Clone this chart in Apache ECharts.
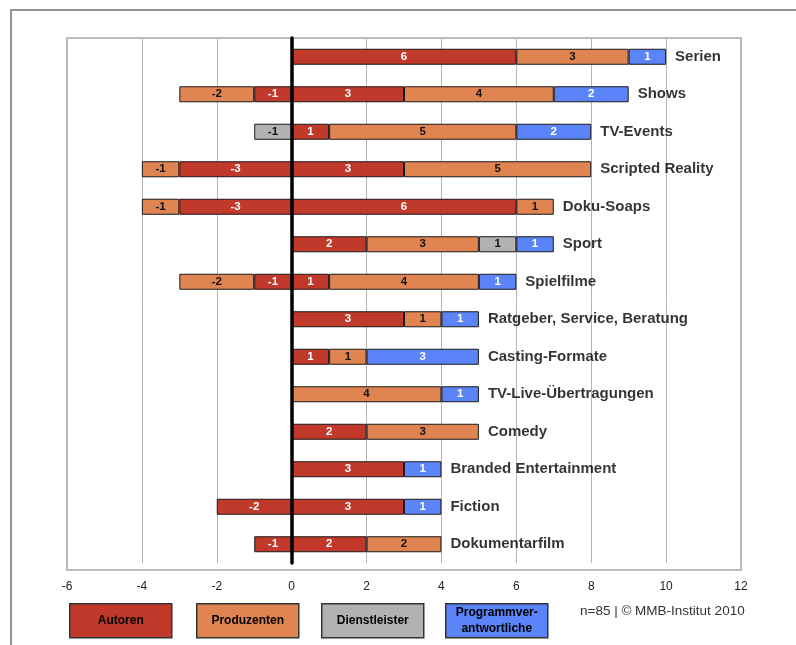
<!DOCTYPE html>
<html>
<head>
<meta charset="utf-8">
<script src="https://cdn.jsdelivr.net/npm/echarts@6/dist/echarts.min.js"></script>
<style>html,body{margin:0;padding:0;background:#fff}#c{width:796px;height:645px}</style>
</head>
<body>
<div id="c"></div>
<script>
const categories = ['Serien','Shows','TV-Events','Scripted Reality','Doku-Soaps','Sport','Spielfilme','Ratgeber, Service, Beratung','Casting-Formate','TV-Live-Übertragungen','Comedy','Branded Entertainment','Fiction','Dokumentarfilm'];
const autorenPos      = [6,3,1,3,6,2,1,3,1,0,2,3,3,2];
const produzentenPos  = [3,4,5,5,1,3,4,1,1,4,3,0,0,2];
const dienstPos       = [0,0,0,0,0,1,0,0,0,0,0,0,0,0];
const programmPos     = [1,2,2,0,0,1,1,1,3,1,0,1,1,0];
const autorenNeg      = [0,-1,0,-3,-3,0,-1,0,0,0,0,0,-2,-1];
const produzentenNeg  = [0,-2,0,-1,-1,0,-2,0,0,0,0,0,0,0];
const dienstNeg       = [0,0,-1,0,0,0,0,0,0,0,0,0,0,0];
const xTicks = {min:-6, max:12, interval:2};
const legendNames = ['Autoren','Produzenten','Dienstleister','Programmver-\nantwortliche'];
const footer = 'n=85 | © MMB-Institut 2010';

const colors = {A:'#C0392A', P:'#E08552', D:'#B2B2B2', G:'#5B84F8'};
const font = 'Liberation Sans, Arial, Helvetica, sans-serif';
const nz = arr => arr.map(v => v === 0 ? '-' : v);

function barSeries(name, data, color, textColor) {
  return {
    name, type:'bar', stack:'total', data:nz(data), barWidth:16,
    itemStyle:{color, borderColor:'#1a1a1a', borderWidth:1},
    label:{show:true, position:'inside', color:textColor, fontWeight:'bold', fontSize:11.5, fontFamily:font},
    emphasis:{disabled:true}
  };
}

const totals = categories.map((c,i) => [autorenPos[i]+produzentenPos[i]+dienstPos[i]+programmPos[i], i]);

const chart = echarts.init(document.getElementById('c'), null, {renderer:'canvas'});
chart.setOption({
  animation:false,
  grid:{left:67, right:55, top:38, bottom:82, show:false},
  xAxis:{type:'value', min:xTicks.min, max:xTicks.max, interval:xTicks.interval,
    axisLine:{show:false}, axisTick:{show:false},
    splitLine:{lineStyle:{color:'#b4b4b4', width:1}},
    axisLabel:{color:'#222', fontSize:12, fontFamily:font, margin:18}},
  yAxis:{type:'category', data:categories, inverse:true, z:10,
    axisLine:{show:true, onZero:true, lineStyle:{color:'#000', width:3.5}},
    axisTick:{show:false}, axisLabel:{show:false}, splitLine:{show:false}},
  series:[
    barSeries('Autoren-', autorenNeg, colors.A, '#fff'),
    barSeries('Autoren', autorenPos, colors.A, '#fff'),
    barSeries('Produzenten-', produzentenNeg, colors.P, '#111'),
    barSeries('Produzenten', produzentenPos, colors.P, '#111'),
    barSeries('Dienstleister-', dienstNeg, colors.D, '#111'),
    barSeries('Dienstleister', dienstPos, colors.D, '#111'),
    barSeries('Programmverantwortliche', programmPos, colors.G, '#fff'),
    {type:'scatter', data:totals, symbolSize:0, silent:true, z:5,
     label:{show:true, position:'right', distance:9, color:'#000', fontWeight:'bold', fontSize:15, fontFamily:font,
       formatter:p => categories[p.data[1]]}}
  ],
  graphic:[
    {type:'polyline', shape:{points:[[11,645],[11,10],[796,10]]}, style:{stroke:'#707070', lineWidth:1.5, fill:null}},
    {type:'rect', z:-1, shape:{x:67,y:38,width:674,height:532}, style:{fill:null, stroke:'#a8a8a8', lineWidth:1.5}},
    ...legendNames.map((n,i) => {
      const x = [69,196,321,445][i];
      const fill = [colors.A,colors.P,colors.D,colors.G][i];
      return {type:'group', left:x, top:603, children:[
        {type:'rect', shape:{x:0,y:0,width:102,height:34}, style:{fill, stroke:'#333', lineWidth:1.5}},
        {type:'text', x:51, y:17, style:{text:n, fill:'#000', font:'bold 12px '+font, align:'center', verticalAlign:'middle', lineHeight:16}}
      ]};
    }),
    {type:'text', left:580, top:604, style:{text:footer, fill:'#333', font:'13.5px '+font}}
  ]
});
</script>
</body>
</html>
